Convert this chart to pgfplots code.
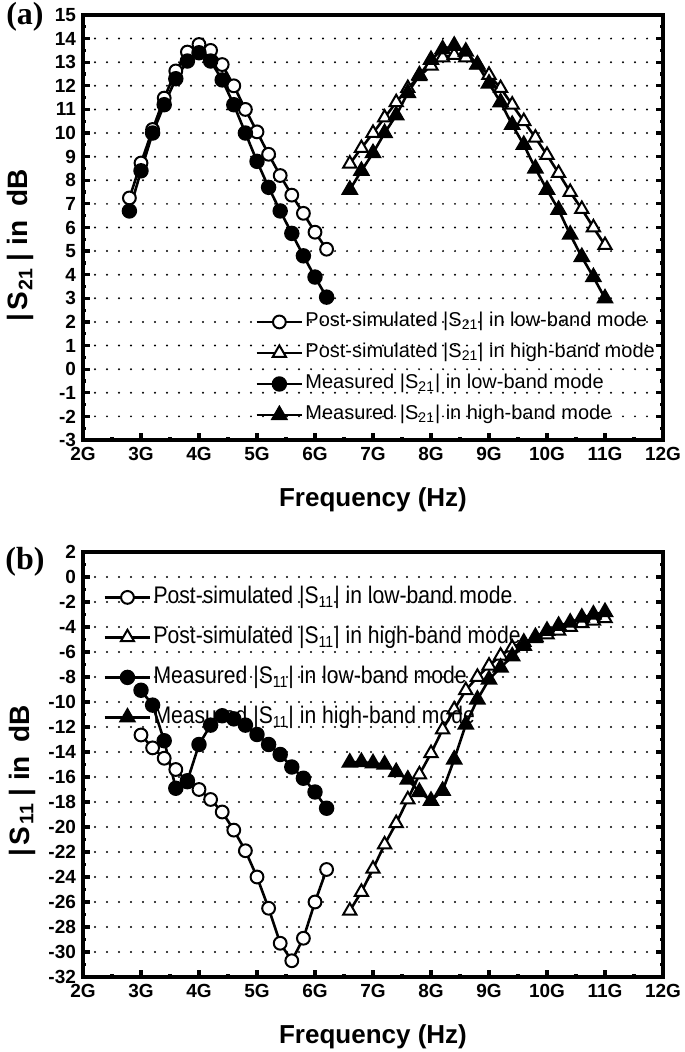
\documentclass[border=0pt]{standalone}
\usepackage{fontspec}
\setmainfont{Liberation Sans}
\newfontfamily\serifb{Liberation Serif}
\newfontfamily\narrowsans[FakeStretch=0.88]{Liberation Sans}
\usepackage{pgfplots}
\pgfplotsset{compat=1.18}

\pgfplotstableread{
f v
2.8 7.25
3.0 8.73
3.2 10.15
3.4 11.48
3.6 12.63
3.8 13.43
4.0 13.75
4.2 13.5
4.4 12.9
4.6 12.0
4.8 11.0
5.0 10.05
5.2 9.1
5.4 8.2
5.6 7.37
5.8 6.6
6.0 5.8
6.2 5.08
}\simlowA
\pgfplotstableread{
f v
6.6 8.7
6.8 9.36
7.0 10.0
7.2 10.65
7.4 11.3
7.6 11.9
7.8 12.4
8.0 12.85
8.2 13.2
8.4 13.3
8.6 13.2
8.8 12.9
9.0 12.46
9.2 11.9
9.4 11.2
9.6 10.5
9.8 9.8
10.0 9.07
10.2 8.3
10.4 7.5
10.6 6.78
10.8 6.0
11.0 5.25
}\simhighA
\pgfplotstableread{
f v
2.8 6.7
3.0 8.4
3.2 10.0
3.4 11.2
3.6 12.3
3.8 13.05
4.0 13.4
4.2 13.05
4.4 12.25
4.6 11.2
4.8 10.0
5.0 8.8
5.2 7.7
5.4 6.7
5.6 5.75
5.8 4.8
6.0 3.9
6.2 3.05
}\measlowA
\pgfplotstableread{
f v
6.6 7.6
6.8 8.4
7.0 9.15
7.2 10.0
7.4 10.75
7.6 11.7
7.8 12.45
8.0 13.1
8.2 13.55
8.4 13.7
8.6 13.45
8.8 12.9
9.0 12.1
9.2 11.3
9.4 10.35
9.6 9.5
9.8 8.5
10.0 7.6
10.2 6.75
10.4 5.7
10.6 4.75
10.8 3.9
11.0 3.0
}\meashighA

\pgfplotstableread{
f v
3.0 -12.64
3.2 -13.67
3.4 -14.5
3.6 -15.4
3.8 -16.4
4.0 -17.0
4.2 -17.8
4.4 -18.8
4.6 -20.25
4.8 -21.9
5.0 -24.0
5.2 -26.5
5.4 -29.3
5.6 -30.7
5.8 -28.9
6.0 -26.0
6.2 -23.4
}\simlowB
\pgfplotstableread{
f v
6.6 -26.7
6.8 -25.2
7.0 -23.35
7.2 -21.4
7.4 -19.7
7.6 -17.8
7.8 -15.8
8.0 -14.1
8.2 -12.2
8.4 -10.6
8.6 -9.06
8.8 -8.0
9.0 -7.1
9.2 -6.3
9.4 -5.65
9.6 -5.2
9.8 -4.9
10.0 -4.6
10.2 -4.3
10.4 -4.0
10.6 -3.7
10.8 -3.5
11.0 -3.3
}\simhighB
\pgfplotstableread{
f v
3.0 -9.06
3.2 -10.25
3.4 -13.1
3.6 -16.9
3.8 -16.3
4.0 -13.4
4.2 -11.85
4.4 -11.1
4.6 -11.35
4.8 -11.85
5.0 -12.6
5.2 -13.4
5.4 -14.2
5.6 -15.2
5.8 -16.1
6.0 -17.2
6.2 -18.5
}\measlowB
\pgfplotstableread{
f v
6.6 -14.85
6.8 -14.8
7.0 -14.9
7.2 -15.0
7.4 -15.6
7.6 -16.2
7.8 -17.2
8.0 -17.9
8.2 -17.1
8.4 -14.6
8.6 -11.8
8.8 -9.8
9.0 -8.2
9.2 -7.25
9.4 -6.35
9.6 -5.5
9.8 -4.8
10.0 -4.3
10.2 -3.9
10.4 -3.65
10.6 -3.25
10.8 -3.0
11.0 -2.8
}\meashighB

\pgfplotsset{
  myaxis/.style={
    scale only axis, width=290pt, height=212.5pt,
    xmin=2, xmax=12, xtick={2,...,12},
    xticklabels={2G,3G,4G,5G,6G,7G,8G,9G,10G,11G,12G},
    minor x tick num=1, minor y tick num=1,
    xtick pos=left,
    tick align=inside,
    axis line style={line width=2pt},
    major tick style={line width=1.6pt, black},
    minor tick style={line width=1.6pt, black},
    major tick length=3.5pt, minor tick length=1.6pt,
    ymajorgrids,
    major grid style={line width=1.1pt, black, line cap=round, dash pattern=on 0pt off 6pt},
    tick label style={font=\fontsize{9.5}{10}\selectfont\bfseries},
    /pgf/number format/assume math mode=true,
    xlabel style={font=\fontsize{13}{14}\selectfont\bfseries, at={(axis description cs:0.5,0)}, anchor=center, yshift=-30pt},
    ylabel style={font=\fontsize{14}{15}\selectfont\bfseries, anchor=center},
    clip=false,
    legend cell align=left,
    legend image code/.code={\draw[mark repeat=2,mark phase=2] plot coordinates {(0cm,0cm) (0.4cm,0cm) (0.8cm,0cm)};},
    every axis plot/.append style={line width=1.3pt, black},
  },
  sl/.style={mark=*, mark size=3.2pt, mark options={fill=white, draw=black, line width=1pt, solid}},
  sh/.style={mark=triangle*, mark size=3.8pt, mark options={fill=white, draw=black, line width=1pt, solid}},
  ml/.style={mark=*, mark size=3.2pt, mark options={fill=black, draw=black, solid}},
  mh/.style={mark=triangle*, mark size=3.8pt, mark options={fill=black, draw=black, solid}},
}

\begin{document}
\begin{tikzpicture}
\path[use as bounding box] (-41.5pt,-37.5pt) rectangle (300.5pt,488.5pt);
\begin{axis}[myaxis, at={(0pt,268.5pt)}, anchor=south west,
  ymin=-3, ymax=15, ytick={-3,-2,...,15},
  xlabel={Frequency (Hz)},
  ylabel={|\hspace{1.5pt}S\textsubscript{\hspace{1pt}21}\hspace{3pt}|\hspace{4pt}in\hspace{3pt} dB},
  ylabel style={at={(axis description cs:-0.107,0.5)}, xshift=-9pt},
  legend style={at={(axis description cs:0.99,0.032)}, anchor=south east, draw=none, fill=none, inner sep=0pt,
    font=\fontsize{10}{11}\selectfont, row sep=4.5pt,
    nodes={text height=7pt, text depth=2pt, inner sep=1pt},
    /tikz/every even column/.append style={column sep=1pt}},
]
\addplot[sl] table[x=f,y=v]{\simlowA};
\addlegendentry{Post-simulated |S\textsubscript{21}| in low-band mode}
\addplot[sh] table[x=f,y=v]{\simhighA};
\addlegendentry{Post-simulated |S\textsubscript{21}| in high-band mode}
\addplot[ml] table[x=f,y=v]{\measlowA};
\addlegendentry{Measured |S\textsubscript{21}| in low-band mode}
\addplot[mh] table[x=f,y=v]{\meashighA};
\addlegendentry{Measured |S\textsubscript{21}| in high-band mode}
\node[font=\serifb\bfseries\fontsize{16}{17}\selectfont] at (rel axis cs:0,1) [xshift=-29pt, yshift=-1pt] {(a)};
\end{axis}

\begin{axis}[myaxis, at={(0pt,0pt)}, anchor=south west,
  ymin=-32, ymax=2, ytick={-32,-30,...,2},
  xlabel={Frequency (Hz)},
  ylabel={|\hspace{1.5pt}S\textsubscript{\hspace{1pt}11}\hspace{3pt}|\hspace{4pt}in\hspace{3pt} dB},
  ylabel style={at={(axis description cs:-0.105,0.5)}, xshift=-8pt},
  legend style={at={(axis description cs:0,1)}, anchor=north west, xshift=10pt, yshift=-15.75pt,
    draw=none, fill=none, inner sep=0pt,
    font=\narrowsans\fontsize{12}{13}\selectfont, row sep=6.5pt,
    nodes={text height=9pt, text depth=2.5pt, inner sep=1pt},
    /tikz/every even column/.append style={column sep=1pt}},
]
\addplot[sl] table[x=f,y=v]{\simlowB};
\addlegendentry{Post-simulated |S\textsubscript{11}| in low-band mode}
\addplot[sh] table[x=f,y=v]{\simhighB};
\addlegendentry{Post-simulated |S\textsubscript{11}| in high-band mode}
\addplot[ml] table[x=f,y=v]{\measlowB};
\addlegendentry{Measured |S\textsubscript{11}| in low-band mode}
\addplot[mh] table[x=f,y=v]{\meashighB};
\addlegendentry{Measured |S\textsubscript{11}| in high-band mode}
\node[font=\serifb\bfseries\fontsize{16}{17}\selectfont] at (rel axis cs:0,1) [xshift=-29pt, yshift=-5pt] {(b)};
\end{axis}
\end{tikzpicture}
\end{document}
